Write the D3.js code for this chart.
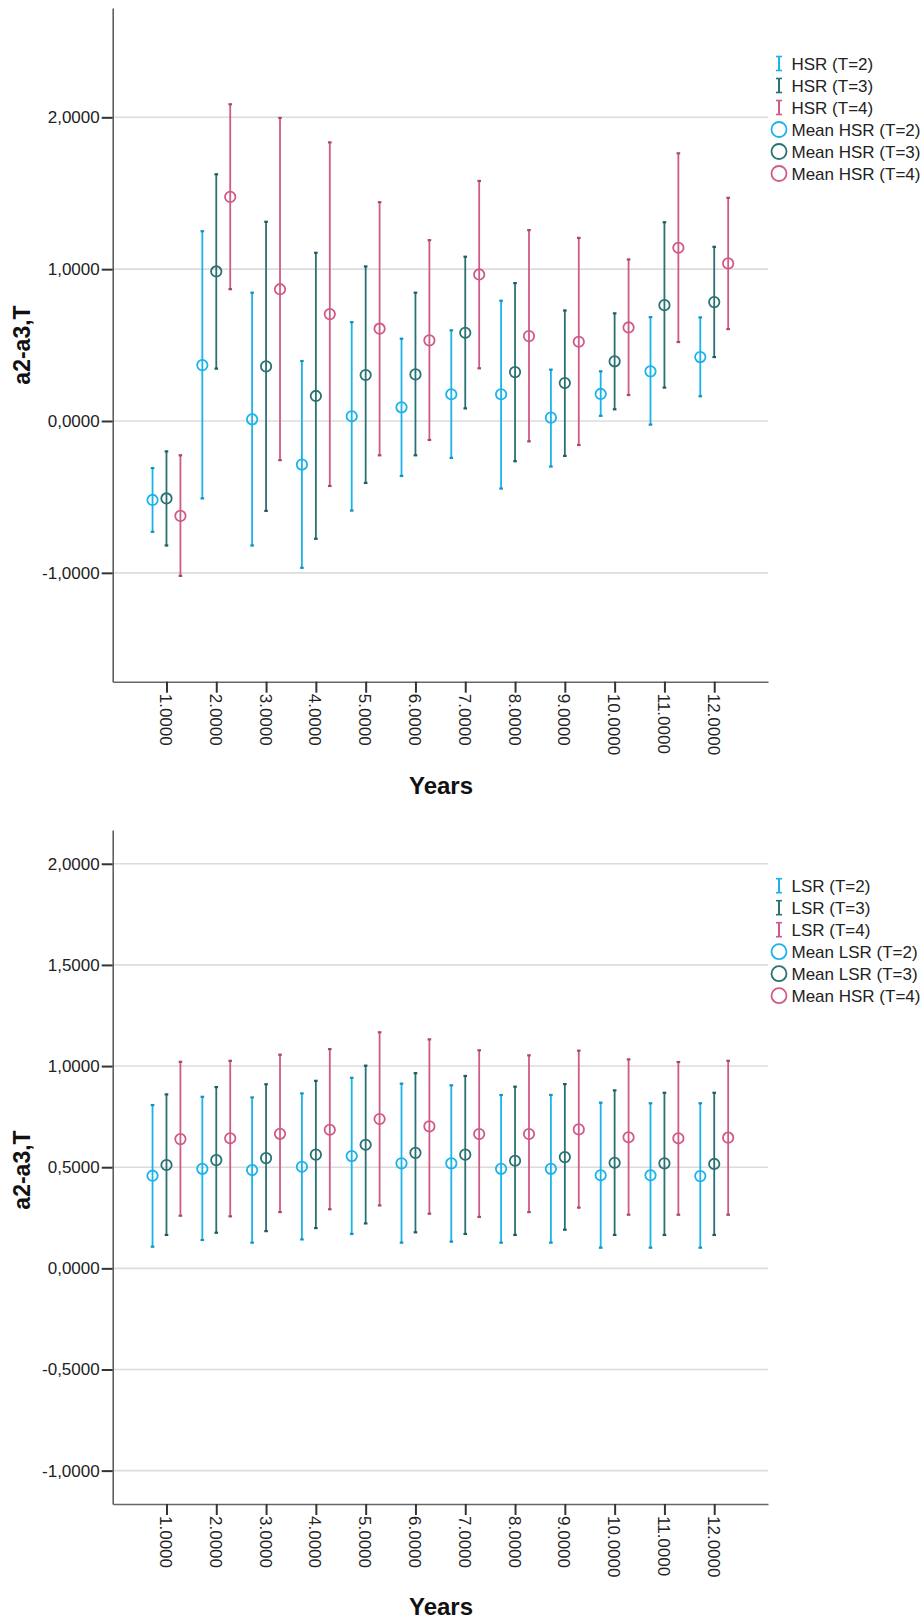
<!DOCTYPE html>
<html><head><meta charset="utf-8">
<script src="https://cdn.jsdelivr.net/npm/d3@7"></script>
<style>
html,body{margin:0;padding:0;background:#fff;}
svg{display:block;font-family:"Liberation Sans",Arial,sans-serif;}
</style></head>
<body>
<svg id="chart" width="924" height="1620"></svg>
<script>
// ---------- data ----------
const years = [1,2,3,4,5,6,7,8,9,10,11,12];
const xTickLabels = ["1.0000","2.0000","3.0000","4.0000","5.0000","6.0000","7.0000","8.0000","9.0000","10.0000","11.0000","12.0000"];
const seriesT = ["T=2","T=3","T=4"];
const seriesColors = ["#1ab3ea","#2a7173","#cf5a88"];

// Top panel (HSR)
const hsrMeanT2 = [-0.52,0.368,0.011,-0.287,0.031,0.09,0.176,0.176,0.022,0.178,0.327,0.421];
const hsrLowT2  = [-0.73,-0.51,-0.82,-0.967,-0.59,-0.362,-0.243,-0.445,-0.30,0.034,-0.024,0.163];
const hsrHighT2 = [-0.31,1.25,0.845,0.395,0.651,0.542,0.597,0.792,0.338,0.327,0.684,0.682];
const hsrMeanT3 = [-0.51,0.985,0.36,0.165,0.303,0.307,0.581,0.322,0.25,0.393,0.763,0.783];
const hsrLowT3  = [-0.82,0.345,-0.592,-0.776,-0.408,-0.226,0.083,-0.265,-0.23,0.077,0.22,0.421];
const hsrHighT3 = [-0.20,1.625,1.312,1.108,1.018,0.845,1.082,0.908,0.728,0.709,1.309,1.147];
const hsrMeanT4 = [-0.625,1.476,0.868,0.704,0.608,0.531,0.965,0.559,0.522,0.616,1.141,1.038];
const hsrLowT4  = [-1.02,0.868,-0.258,-0.428,-0.226,-0.125,0.347,-0.134,-0.158,0.171,0.52,0.605];
const hsrHighT4 = [-0.226,2.086,1.996,1.835,1.441,1.191,1.581,1.257,1.206,1.064,1.763,1.47];
const hsrYTicks = [-1,0,1,2];
const hsrLegend = ["HSR (T=2)","HSR (T=3)","HSR (T=4)","Mean HSR (T=2)","Mean HSR (T=3)","Mean HSR (T=4)"];

// Bottom panel (LSR)
const lsrMeanT2 = [0.458,0.492,0.486,0.502,0.555,0.519,0.519,0.492,0.492,0.46,0.46,0.456];
const lsrLowT2  = [0.107,0.14,0.127,0.143,0.17,0.127,0.132,0.127,0.127,0.102,0.102,0.102];
const lsrHighT2 = [0.807,0.848,0.845,0.865,0.942,0.913,0.905,0.857,0.857,0.819,0.816,0.816];
const lsrMeanT3 = [0.511,0.535,0.545,0.562,0.611,0.571,0.562,0.532,0.55,0.522,0.519,0.516];
const lsrLowT3  = [0.165,0.176,0.184,0.199,0.222,0.178,0.17,0.165,0.191,0.165,0.165,0.165];
const lsrHighT3 = [0.86,0.896,0.91,0.927,1.002,0.965,0.951,0.898,0.911,0.88,0.868,0.868];
const lsrMeanT4 = [0.639,0.643,0.665,0.685,0.738,0.702,0.664,0.664,0.687,0.648,0.643,0.646];
const lsrLowT4  = [0.26,0.257,0.278,0.292,0.311,0.27,0.254,0.278,0.3,0.265,0.265,0.265];
const lsrHighT4 = [1.021,1.026,1.056,1.084,1.167,1.132,1.078,1.053,1.076,1.033,1.02,1.026];
const lsrYTicks = [-1,-0.5,0,0.5,1,1.5,2];
const lsrLegend = ["LSR (T=2)","LSR (T=3)","LSR (T=4)","Mean LSR (T=2)","Mean LSR (T=3)","Mean HSR (T=4)"];

// ---------- drawing ----------
const svg = d3.select("#chart");
const fmtY = v => d3.format(".4f")(v).replace(".", ",").replace("−","-");

function panel(cfg){
  const g = svg.append("g");
  const x = d3.scalePoint().domain(years).range([112.7, 768]).padding(1.08);
  const y = d3.scaleLinear().domain(cfg.yDomain).range([cfg.bottom, cfg.top]);
  const off = x.step() * 0.28;
  const offsets = [-off, 0, off];

  // gridlines
  g.append("g").selectAll("line").data(cfg.yTicks).join("line")
    .attr("x1", 113).attr("x2", 768)
    .attr("y1", d => y(d)).attr("y2", d => y(d))
    .attr("stroke", "#dcdcdc").attr("stroke-width", 1.6);

  // y axis
  const ya = g.append("g").attr("transform", "translate(112.7,0)")
    .call(d3.axisLeft(y).tickValues(cfg.yTicks).tickFormat(fmtY).tickSize(11).tickSizeOuter(0).tickPadding(2));
  ya.select(".domain").attr("stroke", "#555").attr("stroke-width", 1.5);
  ya.selectAll(".tick line").attr("stroke", "#333").attr("stroke-width", 2);
  ya.selectAll(".tick text").attr("font-size", 17).attr("fill", "#222")
    .attr("font-family", "Liberation Sans, Arial, sans-serif");

  // x axis
  const xa = g.append("g").attr("transform", `translate(0,${cfg.bottom})`)
    .call(d3.axisBottom(x).tickFormat((d,i) => xTickLabels[i]).tickSize(11).tickSizeOuter(0).tickPadding(0));
  xa.select(".domain").attr("stroke", "#666").attr("stroke-width", 1.5);
  xa.selectAll(".tick line").attr("stroke", "#333").attr("stroke-width", 2);
  xa.selectAll(".tick text")
    .attr("font-size", 17).attr("fill", "#222")
    .attr("font-family", "Liberation Sans, Arial, sans-serif")
    .attr("text-anchor", "start")
    .attr("transform", "translate(-1,12) rotate(90)")
    .attr("x", 0).attr("y", 0).attr("dy", "0.35em");

  // error bars & means
  cfg.series.forEach((s, si) => {
    const col = seriesColors[si];
    const sg = g.append("g");
    years.forEach((yr, i) => {
      const cx = x(yr) + offsets[si];
      sg.append("line").attr("x1", cx).attr("x2", cx)
        .attr("y1", y(s.low[i])).attr("y2", y(s.high[i]))
        .attr("stroke", col).attr("stroke-width", 1.8);
      [s.low[i], s.high[i]].forEach(v => {
        sg.append("line").attr("x1", cx - 1.8).attr("x2", cx + 1.8)
          .attr("y1", y(v)).attr("y2", y(v))
          .attr("stroke", d3.color(col).darker(0.6)).attr("stroke-width", 2.2);
      });
      sg.append("circle").attr("cx", cx).attr("cy", y(s.mean[i])).attr("r", 5.2)
        .attr("fill", "none").attr("stroke", col).attr("stroke-width", 1.8);
    });
  });

  // axis titles
  g.append("text").attr("transform", `translate(30,${cfg.yTitleY}) rotate(-90)`)
    .attr("text-anchor", "middle").attr("font-size", 23).attr("font-weight", "bold")
    .attr("fill", "#111").text("a2-a3,T");
  g.append("text").attr("x", 441).attr("y", cfg.xTitleY)
    .attr("text-anchor", "middle").attr("font-size", 24).attr("font-weight", "bold")
    .attr("fill", "#111").text("Years");

  // legend
  const lg = g.append("g");
  cfg.legend.forEach((lab, i) => {
    const ly = cfg.legendTop + i * 22;
    const col = seriesColors[i % 3];
    if (i < 3) {
      lg.append("line").attr("x1", 779).attr("x2", 779).attr("y1", ly - 7).attr("y2", ly + 7)
        .attr("stroke", col).attr("stroke-width", 2);
      [ly - 7, ly + 7].forEach(yy => lg.append("line").attr("x1", 776).attr("x2", 782)
        .attr("y1", yy).attr("y2", yy).attr("stroke", col).attr("stroke-width", 1.6));
    } else {
      lg.append("circle").attr("cx", 779).attr("cy", ly).attr("r", 7.5)
        .attr("fill", "none").attr("stroke", col).attr("stroke-width", 1.8);
    }
    lg.append("text").attr("x", 791.5).attr("y", ly).attr("dy", "0.36em")
      .attr("font-size", 17).attr("fill", "#222").text(lab);
  });
}

panel({
  top: 8, bottom: 681.7, yDomain: [-1.717, 2.72], yTicks: hsrYTicks,
  yTitleY: 345, xTitleY: 794, legendTop: 63.5, legend: hsrLegend,
  series: [
    {mean: hsrMeanT2, low: hsrLowT2, high: hsrHighT2},
    {mean: hsrMeanT3, low: hsrLowT3, high: hsrHighT3},
    {mean: hsrMeanT4, low: hsrLowT4, high: hsrHighT4}
  ]
});
panel({
  top: 830, bottom: 1504, yDomain: [-1.165, 2.167], yTicks: lsrYTicks,
  yTitleY: 1170, xTitleY: 1615, legendTop: 885.7, legend: lsrLegend,
  series: [
    {mean: lsrMeanT2, low: lsrLowT2, high: lsrHighT2},
    {mean: lsrMeanT3, low: lsrLowT3, high: lsrHighT3},
    {mean: lsrMeanT4, low: lsrLowT4, high: lsrHighT4}
  ]
});
</script>
</body></html>
